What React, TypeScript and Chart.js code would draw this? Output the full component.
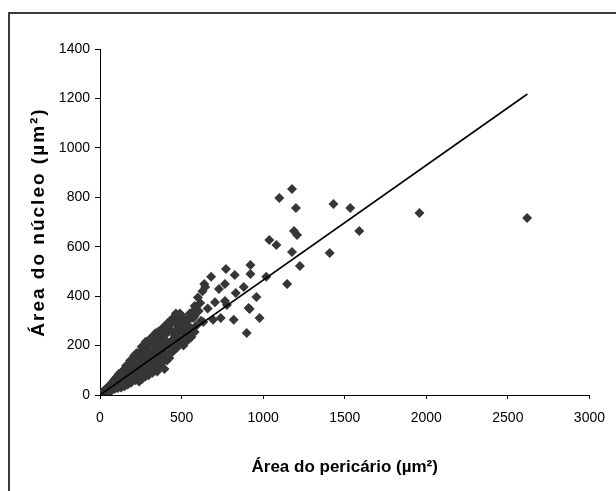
import React, { useEffect, useRef } from "react";
import { Chart, registerables } from "chart.js";

Chart.register(...registerables);

// Área do pericário (µm²) for each neuron
const pericarioX = [
  4, 8, 12, 15, 18, 22, 25, 28, 32, 35, 38, 42, 45, 48, 52, 55, 58, 62, 65, 68, 72, 75, 78, 82, 85, 88, 92, 95, 98, 60, 70, 90, 100,
  102, 105, 108, 112, 115, 118, 122, 125, 128, 132, 135, 138, 142, 145, 148, 152, 155, 158, 162, 165, 168, 172, 175, 178, 182, 185, 188, 192, 195, 198, 130, 150, 170, 190, 160, 180, 200,
  202, 205, 208, 212, 215, 218, 222, 225, 228, 232, 235, 238, 242, 245, 248, 252, 255, 258, 262, 265, 268, 272, 275, 278, 282, 285, 288, 292, 295, 298, 210, 230, 250, 270, 290, 240, 260,
  302, 306, 310, 315, 318, 322, 328, 332, 336, 340, 345, 350, 355, 360, 365, 370, 375, 380, 385, 390, 395, 400, 405, 410, 415, 420, 335, 365, 395, 325, 355, 385,
  425, 430, 438, 445, 452, 458, 465, 470, 478, 485, 490, 498, 505, 512, 520, 528, 535, 542, 550, 560, 566, 572, 580, 590, 600, 605, 614, 620, 628, 633, 639,
  645, 660, 681, 693, 705, 729, 740, 766, 766, 772, 778, 820, 826, 832, 881, 899, 911, 917, 922, 922, 959, 978, 1019, 1038, 1081, 1099, 1147, 1177, 1177, 1189, 1201, 1208, 1225, 1408, 1431, 1534, 1589, 1958, 2618,
  20, 30, 40, 50, 65, 80, 95, 110, 125, 140, 155, 170, 185, 200, 215, 230, 245, 260, 275, 290, 305, 320, 335, 350, 365, 380, 395, 410, 440, 460, 480, 500, 520, 540, 560, 580,
  110, 140, 175, 205, 225, 250, 275, 300, 320, 345, 370, 400, 430, 455, 475, 500, 525, 545, 580,
  115, 135, 160, 185, 210, 225, 255, 280, 310, 340, 360, 375, 405, 420, 445, 470, 490,
];

// Área do núcleo (µm²) for each neuron
const nucleoY = [
  2, 5, 4, 9, 7, 14, 9, 18, 12, 22, 15, 27, 18, 30, 20, 34, 24, 40, 26, 45, 30, 50, 33, 55, 38, 62, 40, 68, 44, 12, 18, 25, 30,
  72, 50, 36, 78, 55, 40, 85, 60, 45, 92, 64, 50, 98, 70, 55, 105, 74, 48, 112, 80, 58, 120, 86, 62, 128, 90, 66, 135, 95, 70, 30, 35, 42, 50, 95, 100, 115,
  140, 100, 75, 148, 105, 60, 155, 110, 85, 162, 115, 70, 170, 120, 92, 178, 125, 65, 185, 130, 98, 192, 135, 75, 198, 140, 105, 205, 145, 80, 125, 140, 150, 110, 160, 55, 85,
  215, 150, 100, 225, 155, 90, 235, 165, 110, 245, 170, 95, 255, 180, 120, 262, 185, 130, 270, 195, 105, 280, 200, 140, 290, 210, 200, 220, 160, 130, 140, 230,
  150, 300, 220, 175, 315, 240, 330, 190, 250, 300, 215, 320, 260, 200, 310, 245, 280, 225, 330, 235, 336, 312, 360, 280, 395, 340, 372, 300, 420, 295, 449,
  437, 350, 478, 304, 375, 429, 312, 449, 380, 510, 364, 304, 486, 413, 437, 251, 352, 348, 526, 490, 397, 312, 478, 627, 607, 797, 449, 834, 579, 664, 757, 647, 522, 575, 773, 757, 664, 736, 716,
  10, 20, 24, 28, 33, 44, 52, 62, 70, 80, 88, 95, 110, 105, 125, 128, 140, 150, 160, 150, 180, 170, 180, 200, 175, 210, 225, 250, 260, 290, 270, 290, 260, 300, 270, 320,
  28, 42, 55, 68, 95, 100, 95, 120, 110, 125, 150, 170, 190, 210, 230, 225, 215, 250, 255,
  85, 95, 118, 140, 160, 170, 195, 215, 230, 250, 240, 255, 270, 280, 300, 320, 330,
];

// Linear trend line end points
const trendX = [0, 2620];
const trendY = [0, 1218];

const xTickValues = [0, 500, 1000, 1500, 2000, 2500, 3000];
const yTickValues = [0, 200, 400, 600, 800, 1000, 1200, 1400];

const xTitle = "Área do pericário (µm²)";
const yTitle = "Área do núcleo (µm²)";

export default function App() {
  const canvasRef = useRef<HTMLCanvasElement | null>(null);

  useEffect(() => {
    const canvas = canvasRef.current;
    if (!canvas) return;
    const family = "'Liberation Sans', Arial, sans-serif";

    const chart = new Chart(canvas, {
      type: "scatter",
      data: {
        datasets: [
          {
            type: "line",
            label: "Tendência",
            data: trendX.map((x, i) => ({ x, y: trendY[i] })),
            borderColor: "#000000",
            borderWidth: 1.6,
            pointRadius: 0,
            fill: false,
            order: 0,
          } as any,
          {
            type: "scatter",
            label: "Neurônios",
            data: pericarioX.map((x, i) => ({ x, y: nucleoY[i] })),
            pointStyle: "rectRot",
            pointRadius: 5,
            backgroundColor: "#363636",
            borderColor: "#363636",
            borderWidth: 0,
            order: 1,
          } as any,
        ],
      },
      options: {
        responsive: false,
        animation: false,
        layout: { padding: { left: 0, top: 49, right: 20, bottom: 0 } },
        plugins: { legend: { display: false }, tooltip: { enabled: false } },
        scales: {
          x: {
            type: "linear",
            min: 0,
            max: 3000,
            afterBuildTicks: (s: any) => {
              s.ticks = xTickValues.map((v) => ({ value: v }));
            },
            afterFit: (s: any) => {
              s.height = 96;
            },
            ticks: {
              color: "#000",
              font: { family, size: 14 },
              padding: 11,
              maxRotation: 0,
              callback: (v: any) => String(v),
            },
            grid: { drawOnChartArea: false, tickLength: 4, color: "#000", lineWidth: 1 },
            border: { color: "#000", width: 1 },
            title: {
              display: true,
              text: xTitle,
              color: "#000",
              font: { family, size: 17, weight: "bold" },
              padding: { top: 0, bottom: 13 },
            },
          },
          y: {
            type: "linear",
            min: 0,
            max: 1400,
            afterBuildTicks: (s: any) => {
              s.ticks = yTickValues.map((v) => ({ value: v }));
            },
            afterFit: (s: any) => {
              s.width = 100;
            },
            ticks: {
              color: "#000",
              font: { family, size: 14 },
              padding: 5,
              callback: (v: any) => String(v),
            },
            grid: { drawOnChartArea: false, tickLength: 5, color: "#000", lineWidth: 1 },
            border: { color: "#000", width: 1 },
            title: {
              display: true,
              text: yTitle,
              color: "#000",
              font: { family, size: 19, weight: "bold" },
              padding: { top: 27, bottom: 0 },
            },
          },
        },
      } as any,
    });

    const ys: any = chart.scales.y;
    const origDrawTitle = ys.drawTitle.bind(ys);
    ys.drawTitle = () => {
      const ctx: any = chart.ctx;
      ctx.letterSpacing = "2px";
      origDrawTitle();
      ctx.letterSpacing = "0px";
    };
    chart.draw();

    return () => chart.destroy();
  }, []);

  return (
    <div
      style={{
        position: "absolute",
        left: 0,
        top: 0,
        width: 616,
        height: 491,
        overflow: "hidden",
        background: "#ffffff",
      }}
    >
      <div
        style={{
          position: "absolute",
          left: 8,
          top: 12,
          width: 700,
          height: 600,
          border: "2px solid #3c3c3c",
        }}
      />
      <canvas
        ref={canvasRef}
        width={616}
        height={491}
        style={{ position: "absolute", left: 0, top: 0, display: "block" }}
      />
    </div>
  );
}
